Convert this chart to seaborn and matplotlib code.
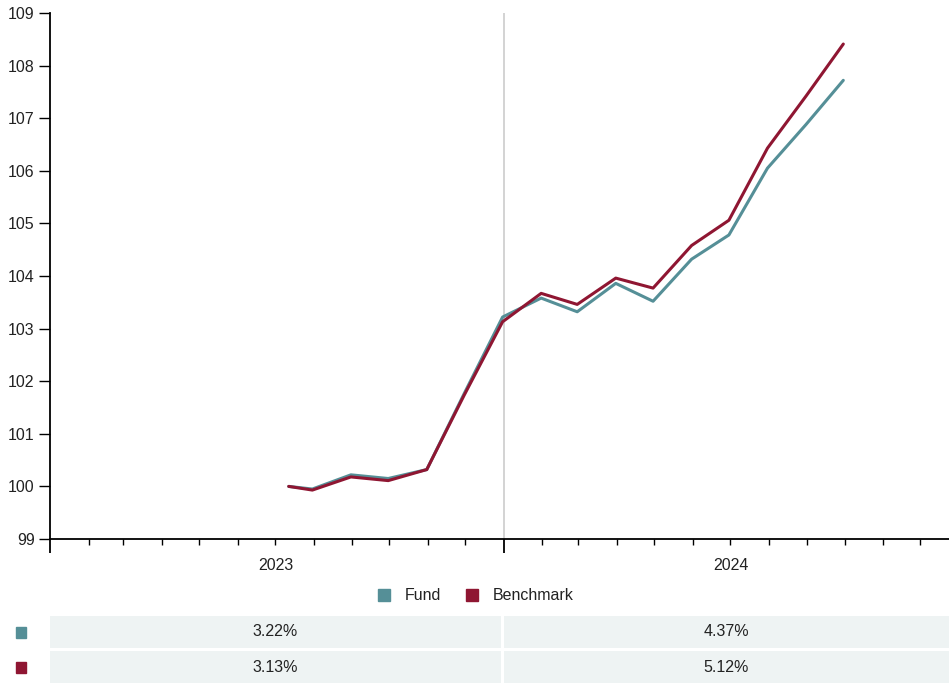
import pandas as pd
import matplotlib.pyplot as plt
import matplotlib.dates as mdates
from matplotlib.lines import Line2D
from matplotlib.patches import Rectangle
import seaborn as sns

# Growth of 100, month-end values
dates = ['2023-07-12', '2023-07-31', '2023-08-31', '2023-09-30', '2023-10-31',
         '2023-11-30', '2023-12-31', '2024-01-31', '2024-02-29', '2024-03-31',
         '2024-04-30', '2024-05-31', '2024-06-30', '2024-07-31', '2024-08-31',
         '2024-09-30']
fund = [100.0, 99.95, 100.22, 100.15, 100.32, 101.76, 103.22, 103.58, 103.32,
        103.86, 103.52, 104.32, 104.78, 106.05, 106.88, 107.72]
benchmark = [100.0, 99.93, 100.18, 100.11, 100.32, 101.73, 103.13, 103.67, 103.46,
             103.96, 103.77, 104.58, 105.06, 106.43, 107.42, 108.41]

years = ['2023', '2024']
fund_returns = ['3.22%', '4.37%']
bench_returns = ['3.13%', '5.12%']

colors = {'Fund': '#558f97', 'Benchmark': '#8f1632'}

df = pd.DataFrame({'date': pd.to_datetime(dates), 'Fund': fund, 'Benchmark': benchmark})
long_df = df.melt(id_vars='date', var_name='series', value_name='value')

sns.set_style('white')
plt.rcParams['font.family'] = ['Liberation Sans', 'DejaVu Sans']

fig = plt.figure(figsize=(9.49, 6.84), dpi=100)
ax = fig.add_axes([50 / 949, 145 / 684, 899 / 949, 526 / 684])

ax.axvline(pd.Timestamp('2024-01-01'), color='#cccccc', lw=1.2, zorder=0)

sns.lineplot(data=long_df, x='date', y='value', hue='series', palette=colors,
             linewidth=2.2, legend=False, ax=ax)

ax.set_xlim(pd.Timestamp('2023-01-01'), pd.Timestamp('2024-12-24'))
ax.set_ylim(99, 109)
ax.set_yticks(range(99, 110))
ax.set_xlabel('')
ax.set_ylabel('')

for side in ['top', 'right']:
    ax.spines[side].set_visible(False)
for side in ['left', 'bottom']:
    ax.spines[side].set_color('black')
    ax.spines[side].set_linewidth(1.3)

ax.tick_params(axis='y', left=True, direction='out', length=8, width=1, color='black',
               labelsize=11.5, pad=3, labelcolor='#222222')

# year boundaries as major ticks, months as minor ticks
ax.xaxis.set_major_locator(mdates.YearLocator())
ax.xaxis.set_minor_locator(mdates.MonthLocator())
ax.xaxis.set_major_formatter(plt.NullFormatter())
ax.tick_params(axis='x', which='major', bottom=True, direction='out', length=10,
               width=1.3, color='black')
ax.tick_params(axis='x', which='minor', bottom=True, direction='out', length=4.5,
               width=1, color='black')

for y in years:
    mid = pd.Timestamp(f'{y}-07-02')
    ax.text(mid, -0.05, y, transform=ax.get_xaxis_transform(), ha='center', va='center',
            fontsize=11.5, color='#222222')

# legend
handles = [Line2D([], [], marker='s', linestyle='', markersize=8, color=colors[k])
           for k in ['Fund', 'Benchmark']]
fig.legend(handles, ['Fund', 'Benchmark'], loc='center', bbox_to_anchor=(471 / 949, 1 - 596 / 684),
           ncol=2, frameon=False, fontsize=11.5, handletextpad=0.3, columnspacing=0.9,
           labelcolor='#222222')

# returns table
tab = fig.add_axes([0, 0, 1, 1], facecolor='none')
tab.set_xlim(0, 949)
tab.set_ylim(684, 0)
tab.axis('off')
col_x = [(50, 501), (504, 949)]
rows = [(616, 648, fund_returns, colors['Fund']), (651, 683, bench_returns, colors['Benchmark'])]
for y0, y1, vals, c in rows:
    tab.add_patch(Rectangle((16, (y0 + y1) / 2 - 5.5), 10, 11, color=c))
    for (x0, x1), v in zip(col_x, vals):
        tab.add_patch(Rectangle((x0, y0), x1 - x0, y1 - y0, color='#eef3f3', lw=0))
        tab.text((x0 + x1) / 2, (y0 + y1) / 2, v, ha='center', va='center',
                 fontsize=11.5, color='#222222')

fig.savefig('out.png', dpi=100)
